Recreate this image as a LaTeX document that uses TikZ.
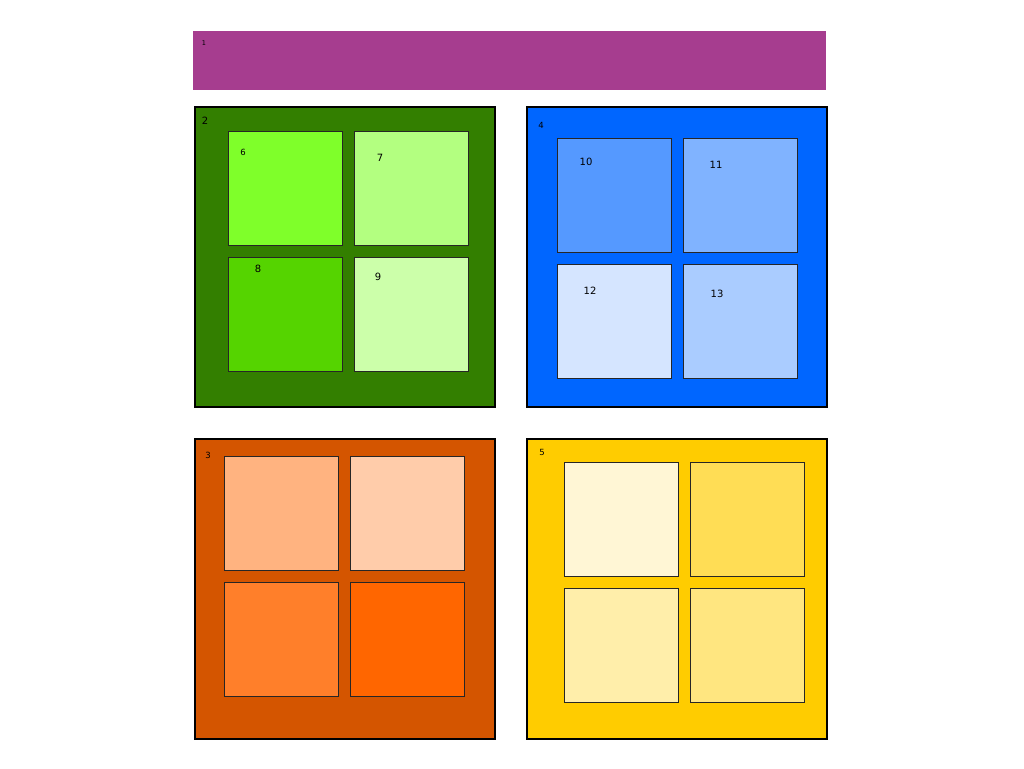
\documentclass[tikz,border=0pt]{standalone}
\usepackage{fontspec}
\setmainfont{DejaVu Sans}
\begin{document}
\begin{tikzpicture}[x=1pt,y=-1pt,
  panel/.style={draw=black,line width=1.8pt,anchor=north west,inner sep=0pt,minimum width=300pt,minimum height=300pt},
  tile/.style={draw=black!85,line width=0.8pt,anchor=north west,inner sep=0pt,minimum width=114pt,minimum height=114pt},
  lbl/.style={font=\fontsize{10}{10}\selectfont,inner sep=0pt,text=black},
  slbl/.style={font=\fontsize{8.5}{8.5}\selectfont,inner sep=0pt,text=black}]
\definecolor{cpurple}{HTML}{A63D8F}
\definecolor{cgreen}{HTML}{337F00}
\definecolor{cg6}{HTML}{7FFF2A}
\definecolor{cg7}{HTML}{B3FF80}
\definecolor{cg8}{HTML}{55D400}
\definecolor{cg9}{HTML}{CCFFAA}
\definecolor{cblue}{HTML}{0066FF}
\definecolor{cb10}{HTML}{5599FF}
\definecolor{cb11}{HTML}{80B3FF}
\definecolor{cb12}{HTML}{D5E5FF}
\definecolor{cb13}{HTML}{AACCFF}
\definecolor{corange}{HTML}{D45500}
\definecolor{co1}{HTML}{FFB380}
\definecolor{co2}{HTML}{FFCCAA}
\definecolor{co3}{HTML}{FF7F2A}
\definecolor{co4}{HTML}{FF6600}
\definecolor{cyellow}{HTML}{FFCC00}
\definecolor{cy1}{HTML}{FFF6D5}
\definecolor{cy2}{HTML}{FFDD55}
\definecolor{cy3}{HTML}{FFEEAA}
\definecolor{cy4}{HTML}{FFE680}
\useasboundingbox[fill=white] (0,0) rectangle (1024,768);
% top bar
\node[fill=cpurple,anchor=north west,inner sep=0pt,minimum width=633pt,minimum height=59pt] (bar) at (193,31) {};
\node[font=\fontsize{6.5}{6.5}\selectfont,inner sep=0pt] (l1) at (204,43) {1};
% green
\node[panel,fill=cgreen] (p2) at (194,106) {};
\node[lbl] (l2) at (205,121) {2};
\node[tile,fill=cg6] (t6) at (228,131) {};
\node[tile,fill=cg7] (t7) at (354,131) {};
\node[tile,fill=cg8] (t8) at (228,257) {};
\node[tile,fill=cg9] (t9) at (354,257) {};
\node[slbl] (l6) at (243,152) {6};
\node[lbl] (l7) at (380,158) {7};
\node[lbl] (l8) at (258,269) {8};
\node[lbl] (l9) at (378,277) {9};
% blue
\node[panel,fill=cblue] (p4) at (526,106) {};
\node[slbl] (l4) at (541,125) {4};
\node[tile,fill=cb10] (t10) at (557,138) {};
\node[tile,fill=cb11] (t11) at (683,138) {};
\node[tile,fill=cb12] (t12) at (557,264) {};
\node[tile,fill=cb13] (t13) at (683,264) {};
\node[lbl] (l10) at (586,162) {10};
\node[lbl] (l11) at (716,165) {11};
\node[lbl] (l12) at (590,291) {12};
\node[lbl] (l13) at (717,294) {13};
% orange
\node[panel,fill=corange] (p3) at (194,438) {};
\node[slbl] (l3) at (208,455) {3};
\node[tile,fill=co1] (o1) at (224,456) {};
\node[tile,fill=co2] (o2) at (350,456) {};
\node[tile,fill=co3] (o3) at (224,582) {};
\node[tile,fill=co4] (o4) at (350,582) {};
% yellow
\node[panel,fill=cyellow] (p5) at (526,438) {};
\node[slbl] (l5) at (542,452) {5};
\node[tile,fill=cy1] (y1) at (564,462) {};
\node[tile,fill=cy2] (y2) at (690,462) {};
\node[tile,fill=cy3] (y3) at (564,588) {};
\node[tile,fill=cy4] (y4) at (690,588) {};
\end{tikzpicture}
\end{document}
